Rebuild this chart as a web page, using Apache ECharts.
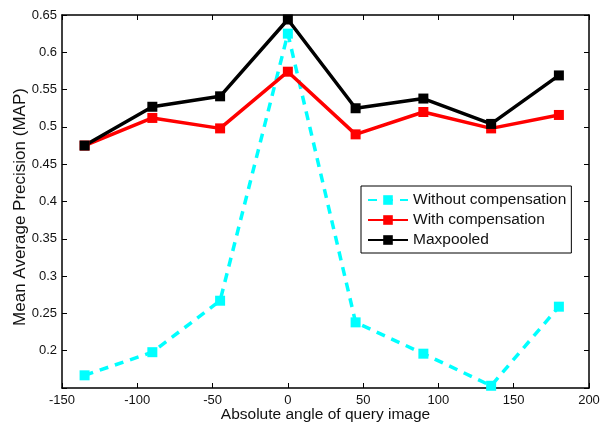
<!DOCTYPE html>
<html><head><meta charset="utf-8">
<script src="https://cdn.jsdelivr.net/npm/echarts@6/dist/echarts.min.js"></script>
<style>html,body{margin:0;padding:0;background:#fff;overflow:hidden}#c{width:602px;height:424px}</style>
</head><body><div id="c"></div>
<script>
const angles = [-135, -90, -45, 0, 45, 90, 135, 180];
const withoutComp = [0.167, 0.198, 0.267, 0.625, 0.238, 0.196, 0.153, 0.259];
const withComp = [0.475, 0.512, 0.498, 0.574, 0.490, 0.520, 0.498, 0.516];
const maxpooled = [0.475, 0.527, 0.541, 0.644, 0.525, 0.538, 0.504, 0.569];
const seriesNames = ['Without compensation', 'With compensation', 'Maxpooled'];
const xTitle = 'Absolute angle of query image';
const yTitle = 'Mean Average Precision (MAP)';

const font = 'Liberation Sans, Arial, sans-serif';
const pair = (vals) => angles.map((a, i) => [a, vals[i]]);
const chart = echarts.init(document.getElementById('c'), null, {renderer: 'canvas'});
const axisCommon = {
  axisLine: {show: true, onZero: false, lineStyle: {color: '#000', width: 1.5}},
  axisTick: {show: true, inside: true, length: 5, lineStyle: {color: '#000'}},
  splitLine: {show: false}
};
chart.setOption({
  animation: false,
  grid: {left: 62, right: 13, top: 15, bottom: 36, containLabel: false, outerBoundsMode: 'none'},
  xAxis: [
    Object.assign({type: 'value', min: -150, max: 200, interval: 50, position: 'bottom',
      name: xTitle, nameLocation: 'middle', nameGap: 19, nameMoveOverlap: false,
      nameTextStyle: {fontFamily: font, fontSize: 15.5, color: '#111'},
      axisLabel: {fontFamily: font, fontSize: 13, color: '#111', margin: 6}}, axisCommon),
    Object.assign({type: 'value', min: -150, max: 200, interval: 50, position: 'top',
      axisLabel: {show: false}}, axisCommon)
  ],
  yAxis: [
    Object.assign({type: 'value', min: 0.15, max: 0.65, interval: 0.05, position: 'left',
      name: yTitle, nameLocation: 'middle', nameGap: 33, nameRotate: 90, nameMoveOverlap: false,
      nameTextStyle: {fontFamily: font, fontSize: 17, color: '#111', padding: [0, 11, 0, 0]},
      axisLabel: {fontFamily: font, fontSize: 13, color: '#111', margin: 5,
        formatter: v => (Math.abs(v - 0.15) < 1e-9) ? '' : String(+v.toFixed(2))}}, axisCommon),
    Object.assign({type: 'value', min: 0.15, max: 0.65, interval: 0.05, position: 'right',
      axisLabel: {show: false}}, axisCommon)
  ],
  legend: {
    orient: 'vertical', left: 361, top: 186,
    backgroundColor: '#fff', borderColor: '#000', borderWidth: 1,
    padding: [6, 5, 5, 6], itemGap: 4, itemWidth: 40, itemHeight: 12,
    textStyle: {fontFamily: font, fontSize: 15.5, color: '#111'},
    data: seriesNames
  },
  series: [
    {name: seriesNames[0], type: 'line', data: pair(withoutComp), symbol: 'rect', symbolSize: 10,
     itemStyle: {color: '#00ffff'}, lineStyle: {color: '#00ffff', width: 3.5, type: [9, 7]}},
    {name: seriesNames[1], type: 'line', data: pair(withComp), symbol: 'rect', symbolSize: 10,
     itemStyle: {color: '#ff0000'}, lineStyle: {color: '#ff0000', width: 3.5}},
    {name: seriesNames[2], type: 'line', data: pair(maxpooled), symbol: 'rect', symbolSize: 10,
     itemStyle: {color: '#000'}, lineStyle: {color: '#000', width: 3.5}}
  ]
});
</script></body></html>
